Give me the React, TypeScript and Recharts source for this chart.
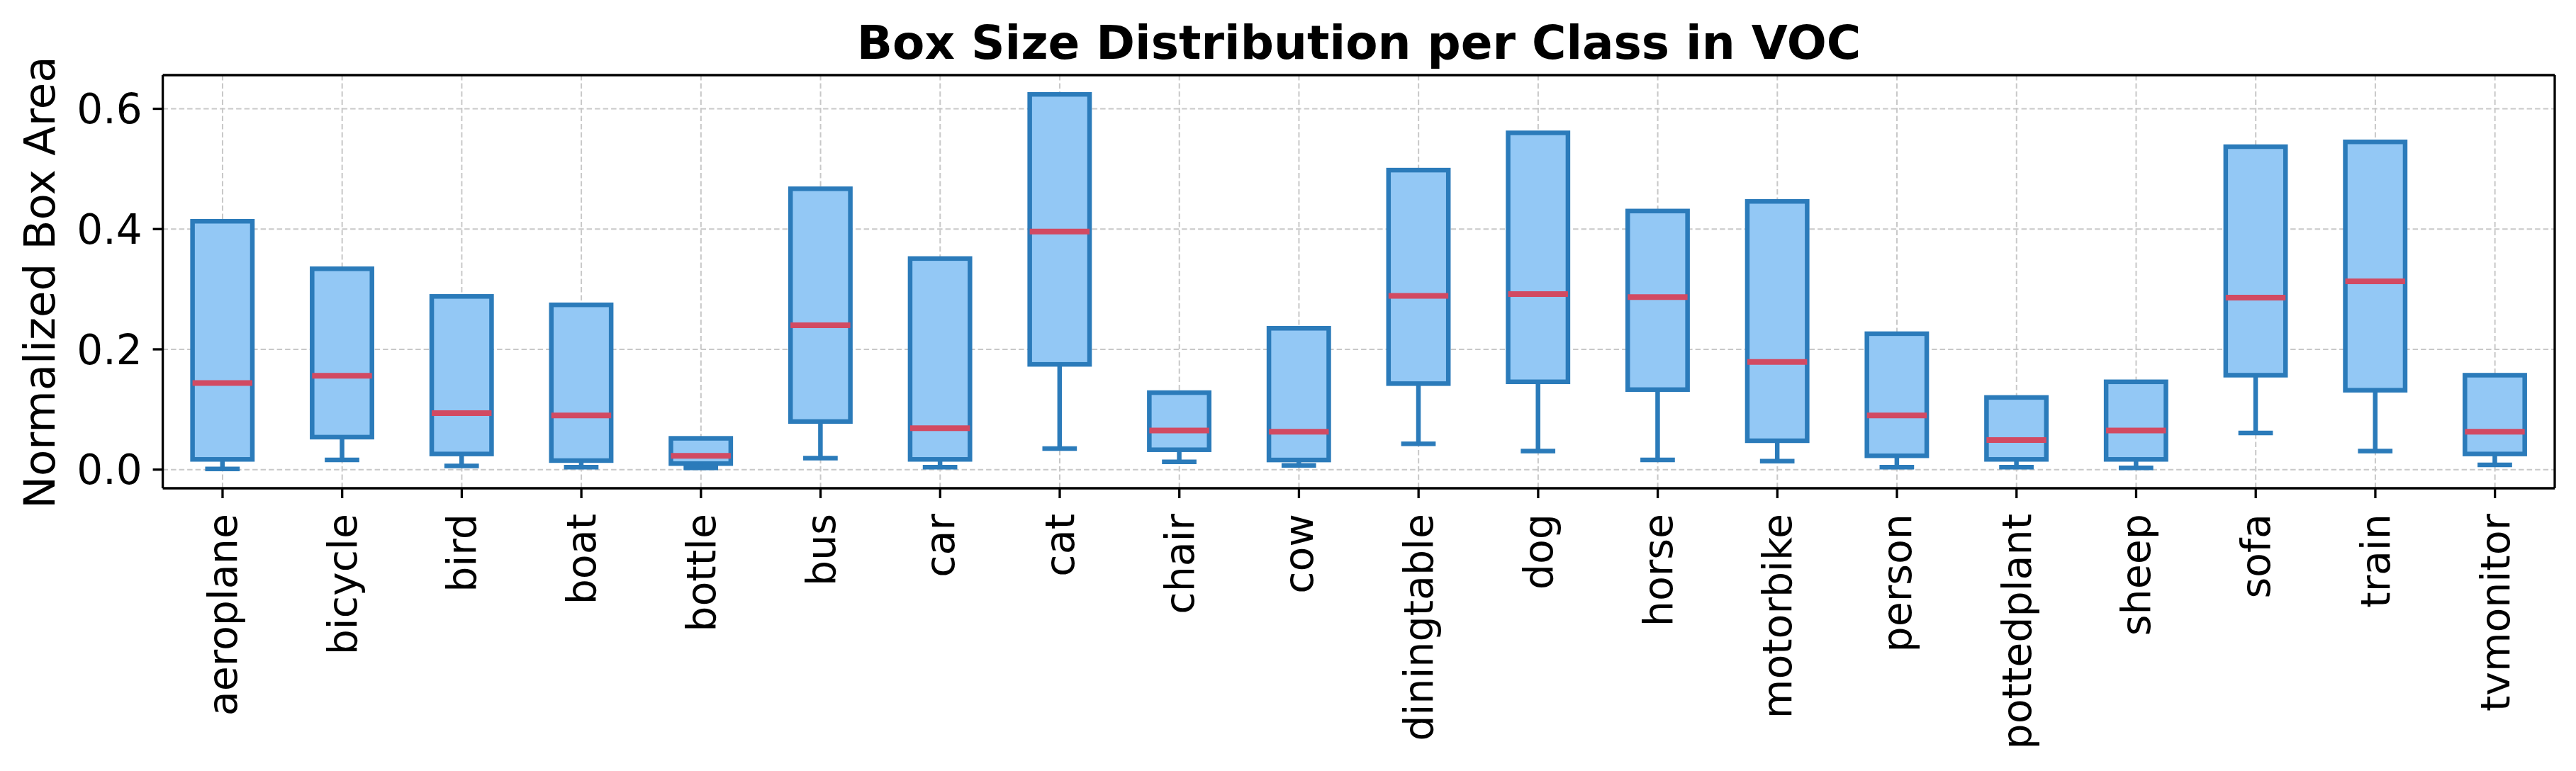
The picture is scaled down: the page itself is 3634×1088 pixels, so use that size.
import React from "react";
import {
  ComposedChart,
  Bar,
  XAxis,
  YAxis,
  CartesianGrid,
  ReferenceLine,
} from "recharts";

const categories = [
  "aeroplane", "bicycle", "bird", "boat", "bottle", "bus", "car", "cat", "chair", "cow",
  "diningtable", "dog", "horse", "motorbike", "person", "pottedplant", "sheep", "sofa", "train", "tvmonitor",
];

// (normalized box area)
const whiskerLow = [0.001, 0.016, 0.006, 0.004, 0.003, 0.019, 0.004, 0.035, 0.013, 0.007, 0.043, 0.031, 0.016, 0.014, 0.004, 0.004, 0.003, 0.061, 0.031, 0.008];
const q1 = [0.017, 0.054, 0.026, 0.015, 0.010, 0.080, 0.017, 0.175, 0.033, 0.016, 0.143, 0.146, 0.133, 0.048, 0.023, 0.017, 0.017, 0.157, 0.132, 0.026];
const median = [0.144, 0.156, 0.094, 0.090, 0.023, 0.240, 0.069, 0.396, 0.065, 0.063, 0.289, 0.292, 0.287, 0.179, 0.090, 0.049, 0.065, 0.286, 0.313, 0.063];
const q3 = [0.413, 0.334, 0.288, 0.274, 0.052, 0.467, 0.351, 0.624, 0.128, 0.235, 0.498, 0.560, 0.430, 0.446, 0.226, 0.120, 0.146, 0.537, 0.545, 0.157];

const yTicks = [0, 0.2, 0.4, 0.6];
const yDomain = [-0.031, 0.656];

const W = 3634;
const H = 1088;
const FONT = "DejaVu Sans";
const EDGE = "#2b7bba";
const FILL = "#93c8f5";
const MEDIAN = "#d24a62";
const SPINE = { stroke: "#000", strokeWidth: 3.3 };

const data = categories.map((name, i) => ({
  name,
  low: whiskerLow[i],
  q1: q1[i],
  median: median[i],
  q3: q3[i],
}));

const BoxShape = (props: any) => {
  const { x, y, width, height, payload } = props;
  const top = Math.min(y, y + height);
  const h = Math.abs(height);
  const bottom = top + h;
  const ppu = h / (payload.q3 - payload.q1);
  const yMed = top + (payload.q3 - payload.median) * ppu;
  const yLow = bottom + (payload.q1 - payload.low) * ppu;
  const cx = x + width / 2;
  const capHalf = width / 4;
  return (
    <g>
      <rect x={x} y={top} width={width} height={h} fill={FILL} stroke={EDGE} strokeWidth={6.5} />
      <line x1={cx} x2={cx} y1={bottom} y2={yLow} stroke={EDGE} strokeWidth={6.5} />
      <line x1={cx - capHalf} x2={cx + capHalf} y1={yLow} y2={yLow} stroke={EDGE} strokeWidth={6.5} strokeLinecap="square" />
      <line x1={x} x2={x + width} y1={yMed} y2={yMed} stroke={MEDIAN} strokeWidth={8} />
    </g>
  );
};

const CategoryTick = (props: any) => {
  const { x, y, payload } = props;
  const ty = y + 22;
  return (
    <text
      x={x}
      y={ty}
      transform={`rotate(-90 ${x} ${ty})`}
      textAnchor="end"
      dominantBaseline="central"
      fontSize={57}
      fontFamily={FONT}
      fill="#000"
    >
      {payload.value}
    </text>
  );
};

export default function App() {
  return (
    <div style={{ position: "absolute", left: 0, top: 0, width: W, height: H, background: "#fff" }}>
      <ComposedChart
        width={W}
        height={H}
        data={data}
        margin={{ top: 106, right: 30, bottom: 0, left: 0 }}
        barCategoryGap={0}
      >
        <CartesianGrid stroke="#c8c8c8" strokeDasharray="7.5 4" strokeWidth={2} />
        <XAxis
          dataKey="name"
          type="category"
          interval={0}
          height={399}
          tick={<CategoryTick />}
          tickSize={14}
          tickMargin={0}
          tickLine={SPINE}
          axisLine={SPINE}
        />
        <YAxis
          type="number"
          domain={yDomain}
          allowDataOverflow
          ticks={yTicks}
          width={229.6}
          tickFormatter={(v: number) => v.toFixed(1)}
          tick={{ fontSize: 58, fill: "#000", fontFamily: FONT }}
          tickSize={14}
          tickMargin={15}
          tickLine={SPINE}
          axisLine={SPINE}
        />
        <Bar
          dataKey={(d: any) => [d.q1, d.q3]}
          barSize={84.4}
          shape={<BoxShape />}
          isAnimationActive={false}
        />
        {/* top and right spines */}
        <ReferenceLine y={yDomain[1]} stroke="#000" strokeWidth={3.3} />
        <ReferenceLine
          x={categories[categories.length - 1]}
          position="end"
          stroke="#000"
          strokeWidth={3.3}
        />
      </ComposedChart>
      <svg
        width={W}
        height={H}
        style={{ position: "absolute", left: 0, top: 0, pointerEvents: "none" }}
      >
        <text x={1917} y={83} textAnchor="middle" fontSize={66} fontWeight="bold" fontFamily={FONT} fill="#000">
          Box Size Distribution per Class in VOC
        </text>
        <text
          x={77}
          y={398.5}
          transform="rotate(-90 77 398.5)"
          textAnchor="middle"
          fontSize={61}
          fontFamily={FONT}
          fill="#000"
        >
          Normalized Box Area
        </text>
      </svg>
    </div>
  );
}
